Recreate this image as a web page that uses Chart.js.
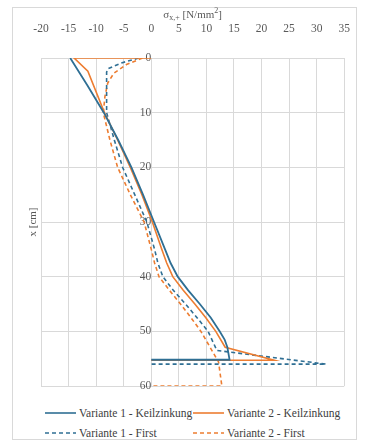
<!DOCTYPE html>
<html>
<head>
<meta charset="utf-8">
<script src="https://cdn.jsdelivr.net/npm/chart.js@4.4.1/dist/chart.umd.min.js"></script>
<style>
  body { margin: 0; background: #fff; font-family: "Liberation Serif", "DejaVu Serif", "Times New Roman", serif; }
  #frame { position: absolute; left: 12px; top: 7px; width: 345px; height: 433px; border: 1px solid #d9d9d9; box-sizing: border-box; }
  #chart { position: absolute; left: 0; top: 0; }
  #legend { position: absolute; left: 45px; top: 403px; display: grid; grid-template-columns: 148px auto; grid-auto-rows: 20px; font-size: 11.5px; color: #404040; }
  .item { display: flex; align-items: center; white-space: nowrap; }
  .item svg { margin-right: 3px; }
</style>
</head>
<body>
<div id="frame"></div>
<canvas id="chart" width="372" height="400"></canvas>
<div id="legend"></div>
<script>
// Spannungsverlauf über die Höhe (Spannung in N/mm², Höhe x in cm)
const seriesNames = ['Variante 1 - Keilzinkung', 'Variante 2 - Keilzinkung', 'Variante 1 - First', 'Variante 2 - First'];

const stressV1Keil = [-14.7, -11.6, -8.6, -6.0, -3.6, -1.5, 0.5, 2.5, 3.5, 4.8, 6.7, 8.8, 10.8, 12.4, 13.3, 13.8, 14.2, 0];
const depthV1Keil  = [0, 5, 10, 15, 20, 25, 30, 35, 37.5, 40, 42.5, 45, 47.5, 50, 51.5, 52.9, 55.2, 55.2];

const stressV2Keil = [0, -14.0, -11.5, -8.5, -6.1, -3.8, -1.7, 0.2, 1.9, 2.8, 3.9, 5.8, 7.9, 9.9, 11.7, 13.4, 22.3, 0];
const depthV2Keil  = [0, 0, 2.4, 10, 15, 20, 25, 30, 35, 37.5, 40, 42.5, 45, 47.5, 50, 52.9, 55.3, 55.3];

const stressV1First = [-2.3, -5.4, -7.9, -8.1, -8.1, -6.7, -5.2, -3.0, -0.8, 0.6, 1.2, 2.1, 4.0, 6.2, 8.3, 10.3, 11.9, 31.7, 0];
const depthV1First  = [0, 0.9, 2.0, 2.6, 10, 15, 20, 25, 30, 35, 37.5, 40, 42.5, 45, 47.5, 50, 53.5, 56, 56];

const stressV2First = [-1.6, -4.5, -6.8, -7.9, -8.4, -8.7, -7.5, -6.1, -3.8, -1.3, 0.0, 0.6, 1.4, 3.3, 5.3, 7.2, 9.0, 12.2, 12.8, 0];
const depthV2First  = [0, 1.2, 2.8, 4.6, 7, 10, 15, 20, 25, 30, 35, 37.5, 40, 42.5, 45, 47.5, 50, 55.6, 60, 60];

const xTicks = { min: -20, max: 35, step: 5 };
const yTicks = { min: 0, max: 60, step: 10 };

const blue = '#2f6f94';
const orange = '#ed7d31';
const gridColor = '#d9d9d9';
const textColor = '#595959';
const serif = '"Liberation Serif", "DejaVu Serif", "Times New Roman", serif';

function toPoints(xs, ys) {
  return xs.map((v, i) => ({ x: v, y: ys[i] }));
}

const datasets = [
  { label: seriesNames[0], data: toPoints(stressV1Keil, depthV1Keil), borderColor: blue, borderWidth: 1.8, borderDash: [] },
  { label: seriesNames[1], data: toPoints(stressV2Keil, depthV2Keil), borderColor: orange, borderWidth: 1.6, borderDash: [] },
  { label: seriesNames[2], data: toPoints(stressV1First, depthV1First), borderColor: blue, borderWidth: 1.6, borderDash: [4, 3] },
  { label: seriesNames[3], data: toPoints(stressV2First, depthV2First), borderColor: orange, borderWidth: 1.6, borderDash: [4, 3] }
].map(d => Object.assign(d, { showLine: true, pointRadius: 0, fill: false, tension: 0 }));

// Achsentitel selbst zeichnen (Index/Exponent im Titel)
const axisTitles = {
  id: 'axisTitles',
  afterDraw(chart) {
    const { ctx, chartArea } = chart;
    const cx = (chartArea.left + chartArea.right) / 2;
    const ty = chartArea.top - 43;
    ctx.save();
    ctx.fillStyle = textColor;
    ctx.textBaseline = 'middle';
    const big = '11px ' + serif;
    const small = '8px ' + serif;
    const parts = [
      { t: 'σ', f: big, dy: 0 },
      { t: 'x,+', f: small, dy: 3 },
      { t: ' [N/mm', f: big, dy: 0 },
      { t: '2', f: small, dy: -4 },
      { t: ']', f: big, dy: 0 }
    ];
    let total = 0;
    parts.forEach(p => { ctx.font = p.f; p.w = ctx.measureText(p.t).width; total += p.w; });
    let x = cx - total / 2;
    ctx.textAlign = 'left';
    parts.forEach(p => { ctx.font = p.f; ctx.fillText(p.t, x, ty + p.dy); x += p.w; });

    ctx.translate(chartArea.left - 8, (chartArea.top + chartArea.bottom) / 2);
    ctx.rotate(-Math.PI / 2);
    ctx.textAlign = 'center';
    ctx.font = big;
    ctx.fillText('x [cm]', 0, 0);
    ctx.restore();
  }
};

const chart = new Chart(document.getElementById('chart'), {
  type: 'scatter',
  data: { datasets: datasets },
  options: {
    responsive: false,
    animation: false,
    devicePixelRatio: 1,
    layout: { padding: { left: 41, right: 25, top: 0, bottom: 14 } },
    plugins: { legend: { display: false }, tooltip: { enabled: false } },
    scales: {
      x: {
        type: 'linear',
        position: 'top',
        min: xTicks.min,
        max: xTicks.max,
        afterFit(scale) { scale.height = 58; },
        ticks: { stepSize: xTicks.step, padding: 22, color: textColor, font: { family: serif, size: 11.5 } },
        grid: { color: gridColor, drawTicks: false },
        border: { display: false }
      },
      y: {
        type: 'linear',
        reverse: true,
        position: { x: 0 },
        min: yTicks.min,
        max: yTicks.max,
        ticks: { stepSize: yTicks.step, padding: 4, color: textColor, font: { family: serif, size: 11.5 } },
        grid: { color: gridColor, drawTicks: false },
        border: { display: false }
      }
    }
  },
  plugins: [axisTitles]
});

// Legende in zwei Spalten wie im Original
const legend = document.getElementById('legend');
chart.data.datasets.forEach(ds => {
  const item = document.createElement('div');
  item.className = 'item';
  const dash = ds.borderDash.length ? 'stroke-dasharray="4 3"' : '';
  item.innerHTML = `<svg width="31" height="6"><line x1="0" y1="3" x2="31" y2="3" stroke="${ds.borderColor}" stroke-width="1.6" ${dash}/></svg><span>${ds.label}</span>`;
  legend.appendChild(item);
});
</script>
</body>
</html>
